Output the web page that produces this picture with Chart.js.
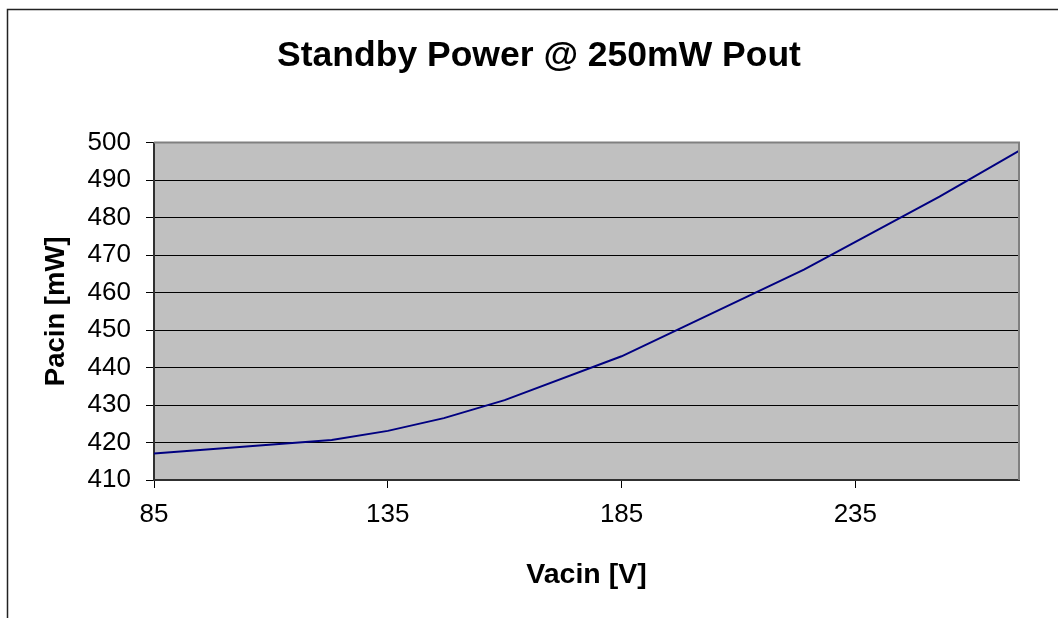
<!DOCTYPE html>
<html>
<head>
<meta charset="utf-8">
<title>Standby Power @ 250mW Pout</title>
<script src="https://cdn.jsdelivr.net/npm/chart.js@4/dist/chart.umd.min.js"></script>
<style>
  html, body { margin: 0; padding: 0; background: #fff; overflow: hidden; }
  canvas { display: block; }
</style>
</head>
<body>
<canvas id="standbyChart" width="1058" height="618"></canvas>
<script>
// input voltage [V] and input power [mW]
var vacin = [85, 123, 135, 147, 160, 185, 224, 253, 270];
var pacin = [417.1, 420.7, 423.1, 426.5, 431.3, 443.0, 466.1, 485.6, 497.8];

// tick labels shown on each axis
var xTickValues = [85, 135, 185, 235];
var yTickValues = [410, 420, 430, 440, 450, 460, 470, 480, 490, 500];

var FONT = "'Liberation Sans', Arial, sans-serif";

// grey plot background, outer frame and grey top/right edge of the plot
var framePlugin = {
    id: 'frame',
    afterLayout: function(chart) {
        // title is centred on the whole frame, not on the padded box
        var t = chart.titleBlock;
        if (t) {
            t.right = 1058;
            t.width = t.right - t.left;
        }
    },
    beforeDraw: function(chart) {
        var c = chart.ctx, a = chart.chartArea;
        c.save();
        c.fillStyle = '#c0c0c0';
        c.fillRect(a.left, a.top, a.right - a.left, a.bottom - a.top);
        c.strokeStyle = '#222';
        c.lineWidth = 1.5;
        c.beginPath();
        c.moveTo(7.5, 618);
        c.lineTo(7.5, 9.5);
        c.lineTo(1058, 9.5);
        c.stroke();
        c.restore();
    },
    afterDraw: function(chart) {
        var c = chart.ctx, a = chart.chartArea;
        c.save();
        c.strokeStyle = '#808080';
        c.lineWidth = 2;
        c.beginPath();
        c.moveTo(a.left, a.top);
        c.lineTo(a.right, a.top);
        c.lineTo(a.right, a.bottom);
        c.stroke();
        c.restore();
    }
};

function initStandbyChart() {
    var ctx = document.getElementById('standbyChart').getContext('2d');
    var points = vacin.map(function(v, i) { return { x: v, y: pacin[i] }; });

    new Chart(ctx, {
        type: 'line',
        data: {
            datasets: [{
                label: 'Pacin',
                data: points,
                borderColor: '#000080',
                borderWidth: 2,
                pointRadius: 0,
                tension: 0,
                fill: false
            }]
        },
        options: {
            responsive: false,
            animation: false,
            layout: { padding: { left: 20, right: 39, top: 0, bottom: 0 } },
            plugins: {
                legend: { display: false },
                tooltip: { enabled: false },
                title: {
                    display: true,
                    text: 'Standby Power @ 250mW Pout',
                    color: '#000',
                    font: { family: FONT, size: 35.5, weight: 'bold', lineHeight: 1.2 },
                    padding: { top: 35, bottom: 65 }
                }
            },
            scales: {
                x: {
                    type: 'linear',
                    min: 85,
                    max: 270,
                    afterBuildTicks: function(scale) {
                        scale.ticks = xTickValues.map(function(v) { return { value: v }; });
                    },
                    afterFit: function(scale) { scale.height = 138; },
                    grid: {
                        drawOnChartArea: false,
                        drawTicks: true,
                        tickLength: 8,
                        color: '#000'
                    },
                    border: { display: true, color: '#303030', width: 2 },
                    ticks: {
                        color: '#000',
                        padding: 11,
                        maxRotation: 0,
                        font: { family: FONT, size: 26 }
                    },
                    title: {
                        display: true,
                        text: 'Vacin [V]',
                        color: '#000',
                        font: { family: FONT, size: 28.5, weight: 'bold', lineHeight: 1.2 },
                        padding: { top: 0, bottom: 26 }
                    }
                },
                y: {
                    type: 'linear',
                    min: 410,
                    max: 500,
                    afterBuildTicks: function(scale) {
                        scale.ticks = yTickValues.map(function(v) { return { value: v }; });
                    },
                    afterFit: function(scale) { scale.width = 134; },
                    grid: {
                        drawOnChartArea: true,
                        drawTicks: true,
                        tickLength: 8,
                        color: '#000',
                        lineWidth: 1
                    },
                    border: { display: true, color: '#303030', width: 2 },
                    ticks: {
                        color: '#000',
                        padding: 15,
                        font: { family: FONT, size: 26 }
                    },
                    title: {
                        display: true,
                        text: 'Pacin [mW]',
                        color: '#000',
                        font: { family: FONT, size: 27.5, weight: 'bold', lineHeight: 1.2 },
                        padding: { top: 20, bottom: 0 }
                    }
                }
            }
        },
        plugins: [framePlugin]
    });
}

initStandbyChart();
</script>
</body>
</html>
